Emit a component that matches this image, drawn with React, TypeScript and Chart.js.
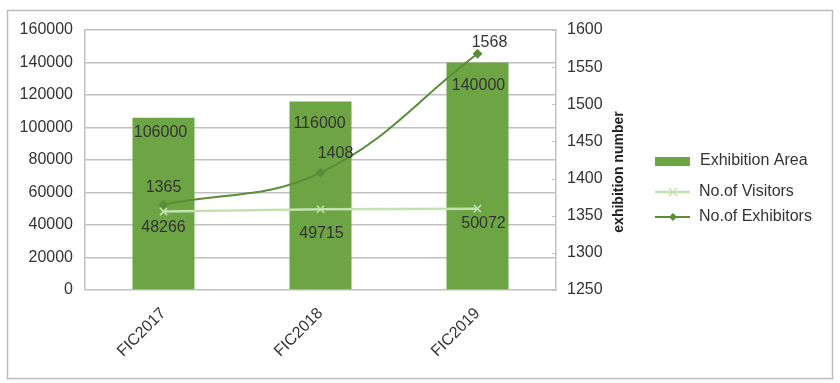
import React, { useEffect, useRef } from 'react';
import { Chart, registerables } from 'chart.js';

Chart.register(...registerables);

// ---- data ----
const categories = ['FIC2017', 'FIC2018', 'FIC2019'];
const exhibitionArea = [106000, 116000, 140000];
const visitors = [48266, 49715, 50072];
const exhibitors = [1365, 1408, 1568];
const seriesNames = ['Exhibition Area', 'No.of Visitors', 'No.of Exhibitors'];
const rightAxisTitle = 'exhibition number';
const leftAxisRange = [0, 160000, 20000];
const rightAxisRange = [1250, 1600, 50];

// ---- style ----
const BAR = '#6da544';
const DARK = '#5b8c3a';
const LIGHT = '#c3e2b0';
const GRID = '#c0c0c0';
const TEXT = '#333333';
const FONT = "'Liberation Sans', Arial, sans-serif";

// label offsets (dx, dy) relative to the mark, per dataset index
const labelOffsets: Record<string, number[][]> = {
  area: [[-3, 15], [-1, 22], [1, 23]],
  visitors: [[0, 16], [1, 24], [6, 15]],
  exhibitors: [[0, -17], [15, -19], [12, -11]],
};

const overlayPlugin = {
  id: 'overlay',
  beforeDraw(chart: any) {
    const ctx = chart.ctx;
    ctx.save();
    ctx.fillStyle = '#ffffff';
    ctx.fillRect(0, 0, chart.width, chart.height);
    ctx.strokeStyle = '#bdbdbd';
    ctx.lineWidth = 1.5;
    ctx.strokeRect(7.5, 10.5, 825, 368);
    ctx.restore();
  },
  afterDatasetsDraw(chart: any) {
    const ctx = chart.ctx;
    const area = chart.chartArea;
    ctx.save();
    // inner tick marks on the right axis
    const y1 = chart.scales.y1;
    ctx.strokeStyle = GRID;
    ctx.lineWidth = 1;
    y1.ticks.forEach((t: any) => {
      const py = Math.round(y1.getPixelForValue(t.value)) + 0.5;
      ctx.beginPath();
      ctx.moveTo(area.right - 4, py);
      ctx.lineTo(area.right, py);
      ctx.stroke();
    });

    // data labels
    ctx.font = `16px ${FONT}`;
    ctx.fillStyle = TEXT;
    ctx.textAlign = 'center';
    ctx.textBaseline = 'middle';
    const drawLabels = (dsIndex: number, key: string, values: number[]) => {
      const meta = chart.getDatasetMeta(dsIndex);
      meta.data.forEach((el: any, i: number) => {
        const [dx, dy] = labelOffsets[key][i];
        ctx.fillText(String(values[i]), el.x + dx, el.y + dy);
      });
    };
    drawLabels(2, 'area', exhibitionArea);
    drawLabels(1, 'visitors', visitors);
    drawLabels(0, 'exhibitors', exhibitors);

    // right axis title
    ctx.save();
    ctx.translate(619, 172);
    ctx.rotate(-Math.PI / 2);
    ctx.font = `bold 14px ${FONT}`;
    ctx.fillStyle = '#222222';
    ctx.textAlign = 'center';
    ctx.textBaseline = 'middle';
    ctx.fillText(rightAxisTitle, 0, 0);
    ctx.restore();

    // legend
    const lx = 655;
    const tx = 699;
    ctx.font = `16px ${FONT}`;
    ctx.textAlign = 'left';
    ctx.textBaseline = 'middle';
    // bar
    ctx.fillStyle = BAR;
    ctx.fillRect(lx, 157, 35, 9);
    ctx.fillStyle = TEXT;
    ctx.fillText(seriesNames[0], tx + 1, 161);
    // visitors
    ctx.strokeStyle = LIGHT;
    ctx.lineWidth = 2.5;
    ctx.beginPath();
    ctx.moveTo(lx, 192);
    ctx.lineTo(lx + 35, 192);
    ctx.stroke();
    ctx.lineWidth = 1.5;
    ctx.beginPath();
    ctx.moveTo(lx + 14, 188);
    ctx.lineTo(lx + 22, 196);
    ctx.moveTo(lx + 22, 188);
    ctx.lineTo(lx + 14, 196);
    ctx.stroke();
    ctx.fillText(seriesNames[1], tx, 192);
    // exhibitors
    ctx.strokeStyle = DARK;
    ctx.lineWidth = 2;
    ctx.beginPath();
    ctx.moveTo(lx, 217);
    ctx.lineTo(lx + 35, 217);
    ctx.stroke();
    ctx.fillStyle = DARK;
    ctx.beginPath();
    ctx.moveTo(lx + 18, 213);
    ctx.lineTo(lx + 22, 217);
    ctx.lineTo(lx + 18, 221);
    ctx.lineTo(lx + 14, 217);
    ctx.closePath();
    ctx.fill();
    ctx.fillStyle = TEXT;
    ctx.fillText(seriesNames[2], tx, 217);
    ctx.restore();
  },
};

export default function App() {
  const canvasRef = useRef<HTMLCanvasElement | null>(null);

  useEffect(() => {
    document.body.style.margin = '0';
    const canvas = canvasRef.current;
    if (!canvas) return;
    const tickFont = { family: FONT, size: 16 };
    const plain = (v: any) => String(v);
    const chart = new Chart(canvas, {
      type: 'bar',
      data: {
        labels: categories,
        datasets: [
          {
            type: 'line',
            label: seriesNames[2],
            data: exhibitors,
            yAxisID: 'y1',
            borderColor: DARK,
            backgroundColor: DARK,
            borderWidth: 2,
            tension: 0.4,
            pointStyle: 'rectRot',
            pointRadius: 3.5,
            pointBackgroundColor: DARK,
            pointBorderColor: DARK,
            order: 0,
          } as any,
          {
            type: 'line',
            label: seriesNames[1],
            data: visitors,
            yAxisID: 'y',
            borderColor: LIGHT,
            backgroundColor: LIGHT,
            borderWidth: 2.5,
            tension: 0,
            pointStyle: 'crossRot',
            pointRadius: 5,
            pointBorderWidth: 1.5,
            pointBorderColor: LIGHT,
            order: 1,
          } as any,
          {
            type: 'bar',
            label: seriesNames[0],
            data: exhibitionArea,
            yAxisID: 'y',
            backgroundColor: BAR,
            barPercentage: 0.395,
            categoryPercentage: 1,
            order: 2,
          } as any,
        ],
      },
      options: {
        responsive: false,
        animation: false,
        devicePixelRatio: 1,
        layout: { padding: { left: 0, right: 224, top: 30, bottom: 0 } },
        plugins: {
          legend: { display: false },
          tooltip: { enabled: false },
        },
        scales: {
          x: {
            grid: { display: false },
            border: { display: false },
            ticks: {
              font: tickFont,
              color: TEXT,
              maxRotation: 45,
              minRotation: 45,
              padding: 6,
            },
            afterFit: (s: any) => {
              s.height = 93;
            },
          },
          y: {
            position: 'left',
            min: leftAxisRange[0],
            max: leftAxisRange[1],
            ticks: { stepSize: leftAxisRange[2], font: tickFont, color: TEXT, padding: 12, callback: plain },
            grid: { color: GRID, lineWidth: 1.5, drawTicks: false },
            border: { display: true, color: GRID, width: 1.5 },
            afterFit: (s: any) => {
              s.width = 85;
            },
          },
          y1: {
            position: 'right',
            min: rightAxisRange[0],
            max: rightAxisRange[1],
            ticks: { stepSize: rightAxisRange[2], font: tickFont, color: TEXT, padding: 11, callback: plain },
            grid: { drawOnChartArea: false, drawTicks: false },
            border: { display: true, color: GRID, width: 1.5 },
            afterFit: (s: any) => {
              s.width = 60;
            },
          },
        },
      } as any,
      plugins: [overlayPlugin],
    });
    return () => chart.destroy();
  }, []);

  return (
    <div style={{ position: 'fixed', left: 0, top: 0, width: 840, height: 383 }}>
      <canvas ref={canvasRef} width={840} height={383} />
    </div>
  );
}
